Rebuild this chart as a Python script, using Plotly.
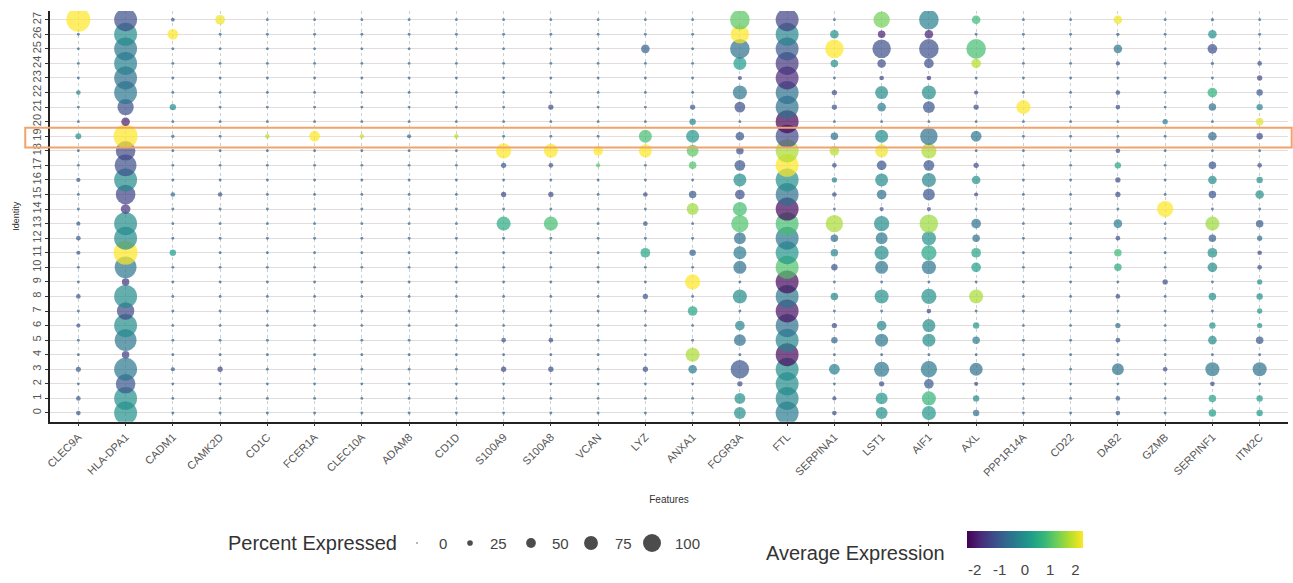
import plotly.graph_objects as go

# Genes on the x axis (left to right) and cluster identities on the y axis (bottom to top)
features = ["CLEC9A", "HLA-DPA1", "CADM1", "CAMK2D", "CD1C", "FCER1A", "CLEC10A", "ADAM8",
            "CD1D", "S100A9", "S100A8", "VCAN", "LYZ", "ANXA1", "FCGR3A", "FTL", "SERPINA1",
            "LST1", "AIF1", "AXL", "PPP1R14A", "CD22", "DAB2", "GZMB", "SERPINF1", "ITM2C"]
identities = ["0", "1", "2", "3", "4", "5", "6", "7", "8", "9", "10", "11", "12", "13",
              "14", "15", "16", "17", "18", "19", "20", "21", "22", "23", "24", "25", "26", "27"]

# Percent of cells expressing each gene; one row per gene, clusters 0..27
pct_expressed = [
    [12, 12, 4, 14, 4, 4, 10, 4, 12, 4, 4, 10, 12, 10, 4, 4, 10, 4, 4, 18, 4, 4, 12, 4, 4, 4, 4, 100],   # CLEC9A
    [95, 95, 80, 95, 25, 90, 95, 70, 95, 25, 90, 100, 95, 95, 35, 80, 95, 90, 80, 100, 30, 65, 95, 95, 95, 95, 95, 95],  # HLA-DPA1
    [4, 4, 4, 10, 4, 4, 4, 4, 4, 4, 4, 20, 4, 4, 4, 12, 4, 4, 4, 6, 4, 20, 4, 4, 4, 4, 40, 8],   # CADM1
    [4, 4, 4, 15, 4, 4, 4, 4, 4, 4, 4, 4, 4, 4, 4, 12, 4, 4, 4, 4, 4, 4, 4, 4, 4, 4, 4, 35],    # CAMK2D
    [4, 4, 4, 4, 4, 4, 4, 4, 4, 4, 4, 4, 4, 4, 4, 4, 4, 4, 4, 12, 4, 4, 4, 4, 4, 4, 4, 4],      # CD1C
    [4, 4, 4, 4, 4, 4, 4, 4, 4, 4, 4, 4, 4, 4, 4, 4, 4, 4, 4, 40, 4, 4, 4, 4, 4, 4, 4, 4],      # FCER1A
    [4, 4, 4, 4, 4, 4, 4, 4, 4, 4, 4, 4, 4, 4, 4, 4, 4, 4, 4, 12, 4, 4, 4, 4, 4, 4, 4, 4],      # CLEC10A
    [4, 4, 4, 4, 4, 4, 4, 4, 4, 4, 4, 4, 4, 4, 4, 4, 4, 4, 4, 10, 4, 4, 4, 4, 4, 4, 4, 4],      # ADAM8
    [4, 4, 4, 4, 4, 4, 4, 4, 4, 4, 4, 4, 4, 4, 4, 4, 4, 4, 4, 12, 4, 4, 4, 4, 4, 4, 4, 4],      # CD1D
    [4, 4, 4, 15, 4, 12, 4, 4, 4, 4, 4, 4, 4, 55, 4, 15, 4, 15, 60, 4, 4, 4, 4, 4, 4, 4, 4, 4],  # S100A9
    [4, 4, 4, 15, 4, 12, 4, 4, 4, 4, 4, 4, 4, 55, 4, 15, 4, 12, 55, 4, 4, 15, 4, 4, 4, 4, 4, 4], # S100A8
    [4, 4, 4, 4, 4, 4, 4, 4, 4, 4, 4, 4, 4, 4, 4, 4, 4, 10, 35, 4, 4, 4, 4, 4, 4, 4, 4, 4],     # VCAN
    [4, 4, 4, 15, 4, 4, 4, 4, 15, 4, 4, 35, 4, 12, 4, 12, 4, 4, 50, 50, 4, 4, 4, 4, 4, 30, 4, 4],  # LYZ
    [4, 4, 4, 30, 55, 4, 4, 35, 4, 60, 4, 20, 4, 4, 45, 25, 4, 25, 45, 50, 20, 15, 4, 4, 4, 4, 4, 4],  # ANXA1
    [45, 40, 15, 75, 4, 45, 35, 4, 55, 4, 50, 50, 45, 70, 55, 35, 50, 40, 25, 30, 4, 40, 55, 10, 50, 80, 75, 80],  # FCGR3A
    [95, 95, 95, 95, 95, 95, 95, 95, 95, 95, 95, 95, 95, 95, 95, 95, 95, 95, 95, 95, 95, 95, 95, 95, 95, 95, 95, 95],  # FTL
    [12, 10, 4, 40, 4, 20, 15, 4, 25, 4, 20, 25, 25, 70, 4, 12, 15, 12, 35, 25, 4, 15, 15, 4, 25, 75, 30, 4],  # SERPINA1
    [45, 45, 15, 60, 4, 50, 35, 4, 55, 4, 50, 55, 45, 60, 10, 35, 50, 35, 50, 50, 4, 30, 50, 12, 30, 75, 25, 65],  # LST1
    [55, 55, 35, 65, 4, 50, 50, 12, 60, 4, 55, 60, 55, 75, 10, 45, 55, 40, 60, 70, 4, 45, 55, 12, 35, 80, 30, 80],  # AIF1
    [20, 20, 10, 50, 4, 25, 20, 4, 55, 4, 35, 35, 25, 35, 4, 10, 30, 15, 4, 40, 4, 15, 10, 4, 35, 80, 4, 30],  # AXL
    [4, 4, 4, 4, 4, 4, 4, 4, 4, 4, 4, 4, 4, 4, 4, 4, 4, 4, 4, 4, 4, 55, 4, 4, 4, 4, 4, 4],      # PPP1R14A
    [4, 4, 4, 4, 4, 4, 4, 4, 4, 4, 4, 4, 4, 4, 4, 4, 4, 4, 4, 4, 4, 4, 4, 4, 4, 4, 4, 4],       # CD22
    [12, 12, 4, 45, 4, 12, 15, 4, 12, 4, 25, 25, 12, 30, 4, 15, 15, 20, 12, 4, 4, 12, 12, 4, 10, 30, 6, 30],  # DAB2
    [4, 4, 4, 12, 4, 4, 4, 4, 4, 15, 4, 4, 4, 4, 65, 4, 4, 4, 4, 4, 15, 4, 4, 4, 4, 4, 4, 4],    # GZMB
    [25, 25, 12, 55, 4, 30, 20, 4, 25, 4, 35, 35, 25, 55, 4, 25, 30, 25, 4, 30, 4, 25, 35, 4, 6, 35, 30, 6],  # SERPINF1
    [20, 20, 4, 55, 4, 25, 15, 15, 20, 15, 12, 12, 15, 25, 4, 30, 20, 12, 4, 20, 25, 20, 20, 15, 12, 4, 4, 4],  # ITM2C
]

# Scaled average expression; same layout as pct_expressed
avg_expression = [
    [-1.0, -1.0, -0.8, -1.0, -0.8, -0.8, -1.0, -0.8, -1.0, -0.8, -0.8, -1.0, -1.0, -1.0, -0.8, -0.8, -1.0, -0.8, -0.8, 0.0, -0.8, -0.8, -0.2, -0.8, -0.8, -0.8, -0.8, 2.3],  # CLEC9A
    [0.0, 0.0, -1.1, -0.5, -1.5, -0.5, -0.1, -1.3, -0.1, -1.6, -0.5, 2.3, -0.1, -0.1, -1.6, -1.4, -0.1, -1.2, -1.3, 2.3, -1.9, -1.2, -0.5, -0.6, -0.3, -0.5, -0.1, -1.2],  # HLA-DPA1
    [-0.8, -0.8, -0.8, -1.0, -0.8, -0.8, -0.8, -0.8, -0.8, -0.8, -0.8, 0.2, -0.8, -0.8, -0.8, -0.6, -0.8, -0.8, -0.8, -0.8, -0.8, -0.1, -0.8, -0.8, -0.8, -0.8, 2.3, -1.0],  # CADM1
    [-0.8, -0.8, -0.8, -1.3, -0.8, -0.8, -0.8, -0.8, -0.8, -0.8, -0.8, -0.8, -0.8, -0.8, -0.8, -1.0, -0.8, -0.8, -0.8, -0.8, -0.8, -0.8, -0.8, -0.8, -0.8, -0.8, -0.8, 2.2],  # CAMK2D
    [-0.8, -0.8, -0.8, -0.8, -0.8, -0.8, -0.8, -0.8, -0.8, -0.8, -0.8, -0.8, -0.8, -0.8, -0.8, -0.8, -0.8, -0.8, -0.8, 1.8, -0.8, -0.8, -0.8, -0.8, -0.8, -0.8, -0.8, -0.8],  # CD1C
    [-0.8, -0.8, -0.8, -0.8, -0.8, -0.8, -0.8, -0.8, -0.8, -0.8, -0.8, -0.8, -0.8, -0.8, -0.8, -0.8, -0.8, -0.8, -0.8, 2.3, -0.8, -0.8, -0.8, -0.8, -0.8, -0.8, -0.8, -0.8],  # FCER1A
    [-0.8, -0.8, -0.8, -0.8, -0.8, -0.8, -0.8, -0.8, -0.8, -0.8, -0.8, -0.8, -0.8, -0.8, -0.8, -0.8, -0.8, -0.8, -0.8, 1.9, -0.8, -0.8, -0.8, -0.8, -0.8, -0.8, -0.8, -0.8],  # CLEC10A
    [-0.8, -0.8, -0.8, -0.8, -0.8, -0.8, -0.8, -0.8, -0.8, -0.8, -0.8, -0.8, -0.8, -0.8, -0.8, -0.8, -0.8, -0.8, -0.8, -0.8, -0.8, -0.8, -0.8, -0.8, -0.8, -0.8, -0.8, -0.8],  # ADAM8
    [-0.8, -0.8, -0.8, -0.8, -0.8, -0.8, -0.8, -0.8, -0.8, -0.8, -0.8, -0.8, -0.8, -0.8, -0.8, -0.8, -0.8, -0.8, -0.8, 1.8, -0.8, -0.8, -0.8, -0.8, -0.8, -0.8, -0.8, -0.8],  # CD1D
    [-0.8, -0.8, -0.8, -1.3, -0.8, -1.0, -0.8, -0.8, -0.8, -0.8, -0.8, -0.8, -0.8, 0.5, -0.8, -1.3, -0.8, -1.0, 2.3, -0.8, -0.8, -0.8, -0.8, -0.8, -0.8, -0.8, -0.8, -0.8],  # S100A9
    [-0.8, -0.8, -0.8, -1.2, -0.8, -1.2, -0.8, -0.8, -0.8, -0.8, -0.8, -0.8, -0.8, 0.9, -0.8, -1.2, -0.8, -1.2, 2.3, -0.8, -0.8, -1.2, -0.8, -0.8, -0.8, -0.8, -0.8, -0.8],  # S100A8
    [-0.8, -0.8, -0.8, -0.8, -0.8, -0.8, -0.8, -0.8, -0.8, -0.8, -0.8, -0.8, -0.8, -0.8, -0.8, -0.8, -0.8, 1.0, 2.3, -0.8, -0.8, -0.8, -0.8, -0.8, -0.8, -0.8, -0.8, -0.8],  # VCAN
    [-0.8, -0.8, -0.8, -1.2, -0.8, -0.8, -0.8, -0.8, -1.0, -0.8, -0.8, 0.4, -0.8, -1.0, -0.8, -1.2, -0.8, -0.8, 2.3, 0.9, -0.8, -0.8, -0.8, -0.8, -0.8, -0.9, -0.8, -0.8],  # LYZ
    [-0.8, -0.8, -0.8, -0.4, 1.7, -0.8, -0.8, 0.4, -0.8, 2.3, -0.8, -0.9, -0.8, -0.8, 1.6, -1.0, -0.8, 1.0, 1.1, 0.1, -0.2, -1.0, -0.8, -0.8, -0.8, -0.8, -0.8, -0.8],  # ANXA1
    [0.0, 0.0, -1.2, -1.1, -0.8, -0.6, -0.2, -0.8, -0.1, -0.8, -0.6, -0.4, -0.6, 1.0, 0.9, -1.2, -0.1, -1.1, -1.2, -1.1, -0.8, -1.2, -0.5, -1.3, 0.2, -0.6, 2.3, 1.1],  # FCGR3A
    [-0.4, -0.2, -0.1, -0.1, -2.2, -0.2, -0.6, -2.1, -0.5, -2.2, 1.0, 0.1, -0.5, 0.9, -2.2, -0.6, 0.0, 2.3, 1.7, -1.3, -2.3, -0.6, -0.6, -1.8, -1.6, -1.0, -0.2, -1.4],  # FTL
    [-1.2, -1.2, -0.8, -0.3, -0.8, -0.8, -1.2, -0.8, -0.2, -0.8, -1.1, -0.2, -0.7, 1.7, -0.8, -1.2, -0.3, -1.2, 1.8, -0.6, -0.8, -1.1, -1.2, -0.8, 0.0, 2.3, 0.0, -0.8],  # SERPINA1
    [0.0, 0.1, -1.2, -0.5, -0.8, -0.5, -0.2, -0.8, 0.0, -0.8, -0.5, -0.1, -0.5, -0.1, -1.0, -0.6, -0.1, -1.1, 2.2, -0.1, -0.8, -0.4, -0.1, -1.3, -1.2, -1.2, -1.9, 1.3],  # LST1
    [0.1, 0.7, -1.0, -0.5, -0.8, -0.1, -0.1, -1.3, 0.0, -0.8, -0.5, 0.4, 0.0, 1.6, -1.0, -1.1, -0.2, -1.1, 1.7, -0.6, -0.8, -1.1, -0.1, -1.5, -1.2, -1.2, -1.9, -0.3],  # AIF1
    [-0.6, -0.1, -1.2, -0.6, -0.8, -0.4, 0.1, -0.8, 1.7, -0.8, 0.3, 0.4, -0.6, -0.6, -0.8, -1.2, 0.0, -1.2, -0.8, -0.5, -0.8, -1.2, -1.2, -0.8, 1.8, 0.9, -0.8, 0.8],  # AXL
    [-0.8, -0.8, -0.8, -0.8, -0.8, -0.8, -0.8, -0.8, -0.8, -0.8, -0.8, -0.8, -0.8, -0.8, -0.8, -0.8, -0.8, -0.8, -0.8, -0.8, -0.8, 2.3, -0.8, -0.8, -0.8, -0.8, -0.8, -0.8],  # PPP1R14A
    [-0.8, -0.8, -0.8, -0.8, -0.8, -0.8, -0.8, -0.8, -0.8, -0.8, -0.8, -0.8, -0.8, -0.8, -0.8, -0.8, -0.8, -0.8, -0.8, -0.8, -0.8, -0.8, -0.8, -0.8, -0.8, -0.8, -0.8, -0.8],  # CD22
    [-1.0, -1.0, -0.8, -0.6, -0.8, -1.1, -0.6, -0.8, -1.2, -0.8, 0.5, 0.8, -1.2, -0.4, -0.8, -1.2, -1.2, 0.4, -1.2, -0.8, -0.8, -1.2, -1.1, -0.8, -1.2, -0.5, -1.0, 2.2],  # DAB2
    [-0.8, -0.8, -0.8, -1.2, -0.8, -0.8, -0.8, -0.8, -0.8, -1.2, -0.8, -0.8, -0.8, -0.8, 2.3, -0.8, -0.8, -0.8, -0.8, -0.8, -0.4, -0.8, -0.8, -0.8, -0.8, -0.8, -0.8, -0.8],  # GZMB
    [0.3, 0.4, -1.2, -0.5, -0.8, -0.1, 0.1, -0.8, 0.0, -0.8, -0.1, 0.0, -0.9, 1.6, -0.8, -1.1, -0.1, -1.1, -0.8, -0.7, -0.8, -0.6, 0.6, -0.8, -0.8, -1.2, 0.0, -0.8],  # SERPINF1
    [0.2, 0.2, -0.8, -0.6, -0.8, -1.0, 0.1, 0.1, 0.0, 0.0, -1.2, -1.2, -0.7, -1.0, -0.8, 0.0, 0.0, -1.2, -0.8, -1.3, 2.1, -0.2, -1.0, -1.3, -1.2, -0.8, -0.8, -0.8],  # ITM2C
]

legend_pcts = [0, 25, 50, 75, 100]
colorbar_ticks = [-2, -1, 0, 1, 2]
highlighted_identity = "19"


def dot_diameter(p):
    return 2 + 0.22 * p


xs, ys, sizes, colors = [], [], [], []
for gi, gene in enumerate(features):
    for ci, ident in enumerate(identities):
        xs.append(gene)
        ys.append(ident)
        sizes.append(dot_diameter(pct_expressed[gi][ci]))
        colors.append(avg_expression[gi][ci])

FONT = "Liberation Sans, Arial, Helvetica, sans-serif"


def px_to_paper_x(px):
    # plotting area spans 50 px .. 1288 px horizontally
    return (px - 50) / 1238


def px_to_paper_y(py):
    # paper y = 0 sits 20 px above the bottom edge; the paper is 552 px tall
    return (563 - py) / 552


fig = go.Figure()
fig.add_trace(go.Scatter(
    x=xs, y=ys, mode="markers",
    marker=dict(
        size=sizes, sizemode="diameter", color=colors,
        colorscale="Viridis", cmin=-2.3, cmax=2.3, line=dict(width=0),
        colorbar=dict(
            orientation="h", x=px_to_paper_x(1025), xanchor="center",
            y=px_to_paper_y(531), yanchor="top",
            len=136, lenmode="pixels", thickness=17, outlinewidth=0,
            xpad=10, ypad=0,
            tickvals=colorbar_ticks, ticktext=[str(t) for t in colorbar_ticks],
            ticks="outside", ticklen=9, tickcolor="rgba(255,255,255,0)",
            ticklabelposition="outside bottom",
            tickfont=dict(family=FONT, size=15, color="#444444"),
        ),
    ),
    showlegend=False, hoverinfo="skip",
))

# Size key for "Percent Expressed", drawn on an auxiliary axis pair
legend_x_px = [417, 470, 531, 591, 652]
legend_y = px_to_paper_y(543)
fig.add_trace(go.Scatter(
    x=[px_to_paper_x(px) for px in legend_x_px], y=[legend_y] * len(legend_pcts),
    xaxis="x2", yaxis="y2", mode="markers",
    marker=dict(size=[dot_diameter(p) * 0.75 for p in legend_pcts], color="black",
                line=dict(width=0)),
    showlegend=False, hoverinfo="skip",
))

label_x_px = [443, 498, 560, 623, 687]
for p, px in zip(legend_pcts, label_x_px):
    fig.add_annotation(x=px_to_paper_x(px), y=legend_y, xref="paper", yref="paper",
                       xanchor="center", yanchor="middle",
                       text=str(p), showarrow=False,
                       font=dict(family=FONT, size=15, color="#444444"))
fig.add_annotation(x=px_to_paper_x(226), y=legend_y, xref="paper", yref="paper",
                   xanchor="left", yanchor="middle", text="Percent Expressed", showarrow=False,
                   font=dict(family=FONT, size=20, color="#333333"))
fig.add_annotation(x=px_to_paper_x(764), y=px_to_paper_y(553), xref="paper", yref="paper",
                   xanchor="left", yanchor="middle", text="Average Expression", showarrow=False,
                   font=dict(family=FONT, size=20, color="#333333"))

# Highlight box around one identity row, extending over the axis labels
hi = identities.index(highlighted_identity)
fig.add_shape(type="rect", xref="paper", yref="y",
              x0=-0.02, x1=1.003, y0=hi - 0.78, y1=hi + 0.58,
              line=dict(color="#f2a36b", width=2), fillcolor="rgba(0,0,0,0)")

fig.update_layout(
    width=1293, height=583,
    margin=dict(l=50, r=5, t=11, b=20, autoexpand=False),
    paper_bgcolor="white", plot_bgcolor="white",
    font=dict(family=FONT),
    xaxis=dict(
        type="category", categoryorder="array", categoryarray=features,
        range=[-0.6, len(features) - 0.4],
        showgrid=True, gridcolor="#cfcfcf", griddash="dot", gridwidth=1,
        showline=True, linecolor="#222222", linewidth=1.5,
        ticks="outside", ticklen=3, tickcolor="#333333",
        tickangle=-45, tickfont=dict(family=FONT, size=11, color="#555555"),
        title=dict(text="Features", font=dict(family=FONT, size=10, color="#333333"), standoff=18),
        zeroline=False, fixedrange=True,
    ),
    yaxis=dict(
        type="category", categoryorder="array", categoryarray=identities,
        range=[-0.6, len(identities) - 0.4], domain=[0.256, 1.0],
        showgrid=True, gridcolor="#e2dcdc", gridwidth=1,
        showline=True, linecolor="#222222", linewidth=1.5,
        ticks="outside", ticklen=3, tickcolor="#333333",
        tickangle=-90, tickfont=dict(family=FONT, size=11, color="#555555"),
        title=dict(text="Identity", font=dict(family=FONT, size=9, color="#333333"), standoff=10),
        zeroline=False, fixedrange=True,
    ),
    xaxis2=dict(domain=[0, 1], range=[0, 1], anchor="y2", visible=False, fixedrange=True),
    yaxis2=dict(domain=[0, 0.25], range=[0, 0.25], anchor="x2", visible=False, fixedrange=True),
)

fig.write_html("out.html")
